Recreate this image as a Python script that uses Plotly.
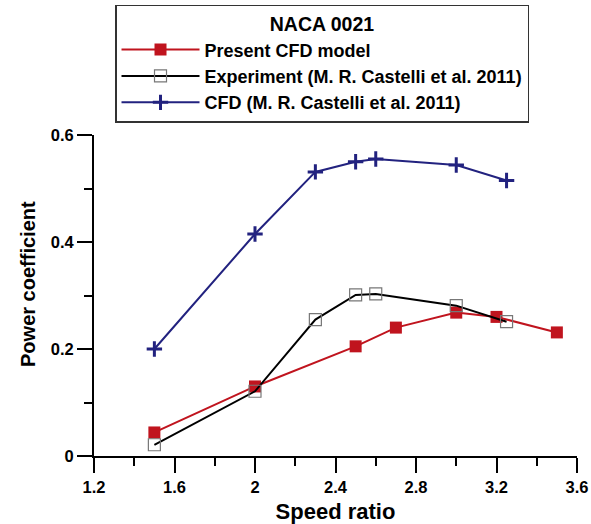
import plotly.graph_objects as go

present_x = [1.5, 2.0, 2.5, 2.7, 3.0, 3.2, 3.5]
present_y = [0.044, 0.130, 0.205, 0.240, 0.268, 0.260, 0.231]

exp_x = [1.5, 2.0, 2.3, 2.5, 2.6, 3.0, 3.25]
exp_y = [0.021, 0.121, 0.255, 0.301, 0.303, 0.281, 0.251]

cfd_x = [1.5, 2.0, 2.3, 2.5, 2.6, 3.0, 3.25]
cfd_y = [0.200, 0.415, 0.531, 0.550, 0.555, 0.544, 0.515]

x_ticks = [1.2, 1.6, 2.0, 2.4, 2.8, 3.2, 3.6]
x_tick_labels = ["1.2", "1.6", "2", "2.4", "2.8", "3.2", "3.6"]
y_ticks = [0, 0.2, 0.4, 0.6]
y_tick_labels = ["0", "0.2", "0.4", "0.6"]

FONT = "Arial, Liberation Sans, Helvetica, sans-serif"
RED = "#C0141E"
NAVY = "#22227F"

fig = go.Figure()
fig.add_trace(go.Scatter(
    x=present_x, y=present_y, mode="lines+markers", name="Present CFD model",
    line=dict(color=RED, width=2),
    marker=dict(symbol="square", size=12, color=RED, line=dict(width=0)),
))
fig.add_trace(go.Scatter(
    x=exp_x, y=exp_y, mode="lines+markers", name="Experiment (M. R. Castelli et al. 2011)",
    line=dict(color="black", width=2),
    marker=dict(symbol="square-open", size=12, color="#777777", line=dict(width=1.2)),
))
fig.add_trace(go.Scatter(
    x=cfd_x, y=cfd_y, mode="lines+markers", name="CFD (M. R. Castelli et al. 2011)",
    line=dict(color=NAVY, width=2),
    marker=dict(symbol="cross-thin", size=11, color=NAVY, line=dict(width=3, color=NAVY)),
))

axis_common = dict(
    showline=True, linecolor="black", linewidth=2,
    ticks="outside", ticklen=15, tickwidth=2, tickcolor="black",
    showgrid=False, zeroline=False, automargin=False,
    tickfont=dict(family=FONT, size=16.5, color="black", weight="bold"),
)

fig.update_xaxes(
    range=[1.2, 3.6], tickvals=x_ticks, ticktext=x_tick_labels,
    minor=dict(ticks="outside", ticklen=8, tickwidth=2, tickcolor="black", dtick=0.2, tick0=1.2),
    title=dict(text="Speed ratio", font=dict(family=FONT, size=22, color="black", weight="bold"), standoff=10),
    **axis_common,
)
fig.update_yaxes(
    range=[0, 0.6], tickvals=y_ticks, ticktext=y_tick_labels,
    minor=dict(ticks="outside", ticklen=8, tickwidth=2, tickcolor="black", dtick=0.1, tick0=0),
    **axis_common,
)

fig.add_annotation(
    text="Power coefficient", textangle=-90, showarrow=False,
    xref="paper", yref="paper", x=-0.1366, y=0.536, xanchor="center", yanchor="middle",
    font=dict(family=FONT, size=20, color="black", weight="bold"),
)

fig.update_layout(
    width=591, height=524,
    margin=dict(l=94, r=14, t=135, b=68, autoexpand=False),
    paper_bgcolor="white", plot_bgcolor="white",
    showlegend=True,
    legend=dict(
        xref="container", yref="container",
        x=0.1946, y=0.9914, xanchor="left", yanchor="top",
        bordercolor="#333333", borderwidth=1.5, bgcolor="white",
        font=dict(family=FONT, size=18, color="black", weight="bold"),
        title=dict(text="NACA 0021", side="top center",
                   font=dict(family=FONT, size=19.5, color="black", weight="bold")),
        itemwidth=78,
    ),
)

fig.write_html("out.html")
